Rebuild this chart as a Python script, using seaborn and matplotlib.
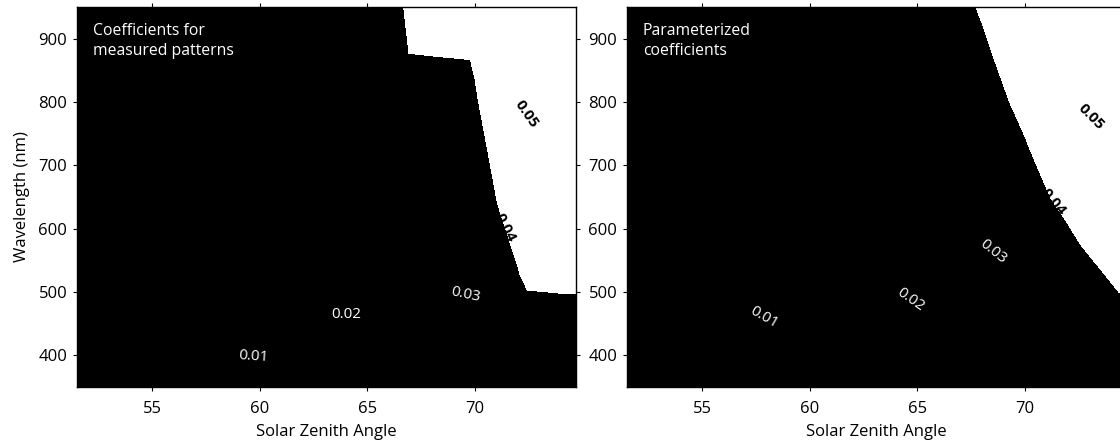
import numpy as np
import matplotlib
matplotlib.use("Agg")
import matplotlib.pyplot as plt
import seaborn as sns

# ---------------- data ----------------
levels_shown = [0.01, 0.02, 0.03, 0.04, 0.05]
threshold = 0.04

# Left panel: coefficients for measured patterns
sza_measured = [50, 54, 58, 62, 64, 66, 68, 70, 72, 74, 76]
wl_measured = [350, 400, 450, 493, 503, 530, 570, 640, 740, 804, 867, 877, 950]
coef_measured = [
    [0.0,     0.0,     0.00429, 0.01,    0.01286, 0.01571, 0.01857, 0.02111, 0.02333, 0.02556, 0.02778],  # 350
    [0.0,     0.00188, 0.00768, 0.01348, 0.01638, 0.01928, 0.02176, 0.02412, 0.02647, 0.02882, 0.0310],   # 400
    [0.0,     0.005,   0.01071, 0.01643, 0.01929, 0.022,   0.02467, 0.02733, 0.03,    0.0316,  0.0332],   # 450
    [0.00143, 0.00714, 0.01286, 0.01857, 0.02149, 0.02448, 0.02746, 0.03024, 0.03184, 0.03344, 0.03504],  # 493
    [0.00214, 0.00786, 0.01357, 0.01929, 0.02217, 0.02507, 0.02797, 0.03189, 0.0382,  0.04641, 0.05538],  # 503
    [0.00296, 0.00859, 0.01423, 0.01986, 0.02275, 0.02565, 0.02855, 0.03323, 0.03968, 0.04864, 0.05773],  # 530
    [0.00411, 0.00959, 0.01507, 0.02058, 0.02348, 0.02638, 0.02928, 0.03455, 0.04091, 0.05,    0.05909],  # 570
    [0.00615, 0.01128, 0.01641, 0.02167, 0.02444, 0.02722, 0.03,    0.03615, 0.04349, 0.05279, 0.06209],  # 640
    [0.00817, 0.01305, 0.01793, 0.02295, 0.02551, 0.02808, 0.03156, 0.03781, 0.0465,  0.0565,  0.0665],   # 740
    [0.00941, 0.01412, 0.01882, 0.02375, 0.02625, 0.02875, 0.03309, 0.03926, 0.04898, 0.05918, 0.06939],  # 804
    [0.01059, 0.01529, 0.02,    0.02471, 0.02706, 0.02941, 0.03446, 0.04065, 0.05,    0.05935, 0.06869],  # 867
    [0.01118, 0.01588, 0.02077, 0.02692, 0.03,    0.03651, 0.04399, 0.05258, 0.06116, 0.06975, 0.07833],  # 877
    [0.01222, 0.01667, 0.02154, 0.02769, 0.03149, 0.03744, 0.04487, 0.05342, 0.06197, 0.07051, 0.07906],  # 950
]

# Right panel: parameterized coefficients
sza_param = [50, 54, 58, 62, 64, 66, 68, 70, 72, 74, 76]
wl_param = [350, 425, 500, 575, 650, 725, 800, 875, 950]
coef_param = [
    [0.0,     0.0,     0.004,   0.00933, 0.012,   0.01467, 0.01733, 0.02,    0.02357, 0.02714, 0.03091],  # 350
    [0.0,     0.00351, 0.0087,  0.0139,  0.01649, 0.01909, 0.0222,  0.02559, 0.02898, 0.03318, 0.03773],  # 425
    [0.00154, 0.00667, 0.01179, 0.01692, 0.01949, 0.02286, 0.02643, 0.03,    0.03449, 0.03899, 0.04449],  # 500
    [0.00367, 0.00873, 0.0138,  0.01886, 0.02204, 0.02574, 0.02944, 0.03386, 0.03841, 0.04382, 0.04971],  # 575
    [0.00634, 0.01122, 0.0161,  0.0214,  0.02491, 0.02842, 0.0325,  0.03705, 0.04206, 0.04794, 0.05382],  # 650
    [0.00884, 0.01349, 0.01814, 0.02381, 0.02698, 0.03023, 0.03477, 0.03932, 0.045,   0.05088, 0.05676],  # 725
    [0.01111, 0.01556, 0.02,    0.02571, 0.02857, 0.03227, 0.03682, 0.04176, 0.04765, 0.05353, 0.05941],  # 800
    [0.01316, 0.01737, 0.02195, 0.02714, 0.02974, 0.03409, 0.03864, 0.04412, 0.05,    0.05588, 0.06176],  # 875
    [0.015,   0.019,   0.02357, 0.02833, 0.03137, 0.03595, 0.04067, 0.0465,  0.05233, 0.05816, 0.06399],  # 950
]

panel_titles = ["Coefficients for\nmeasured patterns", "Parameterized\ncoefficients"]
x_ticks = [55, 60, 65, 70]
y_ticks = [400, 500, 600, 700, 800, 900]

# label anchor points and text angles (styling of contour labels)
label_points = [
    [(59.7, 396.5), (63.9, 460), (69.6, 497), (71.5, 603), (72.0, 777.5)],
    [(57.8, 457.5), (64.7, 489), (68.5, 563), (71.45, 645), (73.1, 777.5)],
]
label_angles = [
    [-4, 0, -12, -63, -55],
    [-30, -35, -39, -50, -45],
]
label_colors = ["white", "white", "white", "black", "black"]
label_weights = ["normal", "normal", "normal", "bold", "bold"]

# ---------------- plotting ----------------
sns.set_theme(style="white")
plt.rcParams["font.family"] = ["Open Sans", "DejaVu Sans"]

fig = plt.figure(figsize=(11.2, 4.43), dpi=100)
ax_w, ax_h = 499 / 1120, 380 / 443
ax_b = 56 / 443
axes = [fig.add_axes([77 / 1120, ax_b, ax_w, ax_h]),
        fig.add_axes([627 / 1120, ax_b, ax_w, ax_h])]

datasets = [(sza_measured, wl_measured, coef_measured),
            (sza_param, wl_param, coef_param)]

for i, (ax, (sza, wl, coef)) in enumerate(zip(axes, datasets)):
    X, Y = np.meshgrid(np.array(sza, float), np.array(wl, float))
    Z = np.array(coef, float)
    ax.contourf(X, Y, Z, levels=[-1.0, threshold, 1.0],
                colors=["black", "white"], antialiased=False)
    cs = ax.contour(X, Y, Z, levels=levels_shown, colors="black",
                    linewidths=0)
    ax.clabel(cs, levels_shown, manual=label_points[i], inline=False,
              fmt="%.2f", fontsize=11)
    for t, ang in zip(cs.labelTexts, label_angles[i]):
        t.set_rotation(ang)
        k = levels_shown.index(round(float(t.get_text()), 2))
        t.set_color(label_colors[k])
        t.set_fontweight(label_weights[k])

    ax.set_xlim(51.5, 74.7)
    ax.set_ylim(350, 950)
    ax.set_xticks(x_ticks)
    ax.set_yticks(y_ticks)
    ax.tick_params(direction="out", length=3, width=0.8, color="black",
                   labelsize=12, top=True, right=True, bottom=True, left=True,
                   labelcolor="black")
    ax.tick_params(axis="x", pad=7)
    ax.tick_params(axis="y", pad=4)
    for sp in ax.spines.values():
        sp.set_visible(True)
        sp.set_color("black")
        sp.set_linewidth(1.0)
    ax.set_xlabel("Solar Zenith Angle", fontsize=12, labelpad=5, color="black")
    ax.text(0.032, 0.958, panel_titles[i], transform=ax.transAxes,
            color="white", fontsize=11.3, va="top", ha="left", linespacing=1.3)

axes[0].set_ylabel("Wavelength (nm)", fontsize=12, labelpad=6, color="black")

fig.savefig("out.png", dpi=100)
